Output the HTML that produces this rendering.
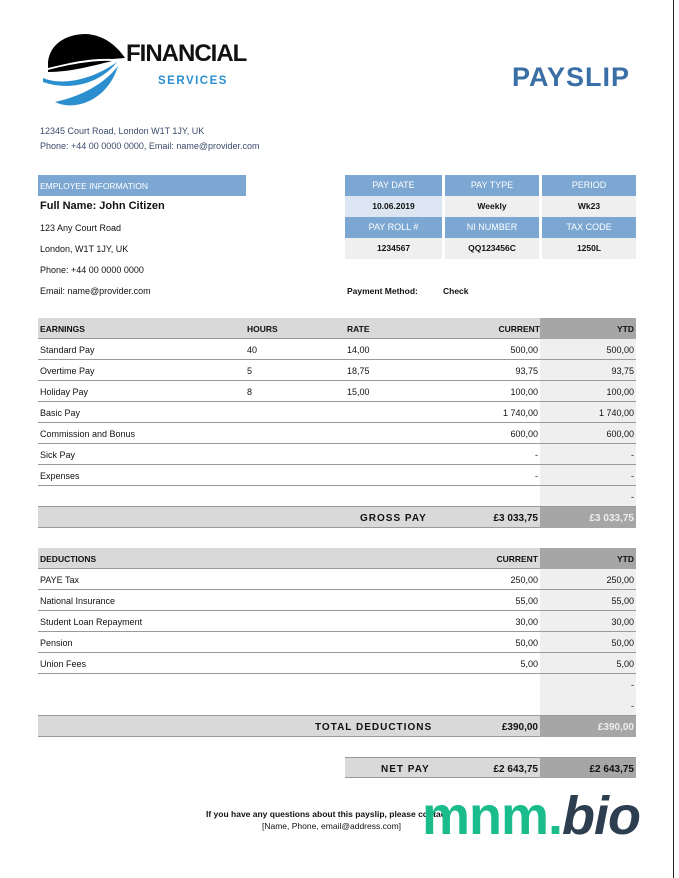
<!DOCTYPE html>
<html><head><meta charset="utf-8"><style>
*{margin:0;padding:0;box-sizing:border-box}
body{width:679px;height:878px;background:#fff;position:relative;font-family:"Liberation Sans",Arial,sans-serif;font-size:9px;color:#111;overflow:hidden}
.a{position:absolute;white-space:nowrap}
.row{position:absolute;left:38px;width:598px;height:21px;border-bottom:1px solid #9a9a9a}
.row span{position:absolute;top:6px}
.r{text-align:right}
.ytd{position:absolute;left:540px;width:96px;background:#efefef}
.hb{position:absolute;background:#7ba7d2;color:#fff;text-align:center;font-size:9px;line-height:21px;height:21px}
.vb{position:absolute;background:#efefef;text-align:center;font-weight:bold;font-size:8.5px;line-height:21px;height:21px}
</style></head><body>
<div class="a" style="left:673px;top:0;width:1px;height:878px;background:#222"></div>
<svg class="a" style="left:0;top:0" width="130" height="115" viewBox="0 0 130 115">
<path d="M48 62 C50 44 66 34 86 34 C104 35 117 46 125 58 L112 59 C92 58 72 62 48 68 Z" fill="#000"/>
<path d="M48 70 C70 64 95 60 112 61 C92 66 70 72 48 72 Z" fill="#000"/>
<path d="M43 78 C62 86 92 80 117 62 C102 82 72 92 43 82 Z" fill="#2b8fcf"/>
<path d="M55 102 C75 112 108 100 118 66 C104 84 82 96 55 102 Z" fill="#2b8fcf"/>
</svg>
<div class="a" style="left:126px;top:40px;font-size:24px;font-weight:bold;letter-spacing:-1px">FINANCIAL</div>
<div class="a" style="left:158px;top:75px;font-size:11.5px;font-weight:bold;color:#2b8fcf;letter-spacing:1.5px">SERVICES</div>
<div class="a" style="left:512px;top:62px;font-size:27px;font-weight:bold;color:#3a6fa6;letter-spacing:1px">PAYSLIP</div>
<div class="a" style="left:40px;top:126px;color:#3b4a6b">12345 Court Road, London W1T 1JY, UK</div>
<div class="a" style="left:40px;top:141px;color:#3b4a6b">Phone: +44 00 0000 0000, Email: name@provider.com</div>
<div class="a" style="left:38px;top:175px;width:208px;height:21px;background:#7ba7d2;color:#fff;padding:6px 2px;font-size:8.5px">EMPLOYEE INFORMATION</div>
<div class="a" style="left:40px;top:200px;font-size:11px;font-weight:bold">Full Name: John Citizen</div>
<div class="a" style="left:40px;top:223px">123 Any Court Road</div>
<div class="a" style="left:40px;top:244px">London, W1T 1JY, UK</div>
<div class="a" style="left:40px;top:265px">Phone: +44 00 0000 0000</div>
<div class="a" style="left:40px;top:286px">Email: name@provider.com</div>
<div class="hb" style="left:345px;top:175px;width:97px">PAY DATE</div>
<div class="hb" style="left:445px;top:175px;width:94px">PAY TYPE</div>
<div class="hb" style="left:542px;top:175px;width:94px">PERIOD</div>
<div class="vb" style="left:345px;top:196px;width:97px;background:#dce6f2">10.06.2019</div>
<div class="vb" style="left:445px;top:196px;width:94px">Weekly</div>
<div class="vb" style="left:542px;top:196px;width:94px">Wk23</div>
<div class="hb" style="left:345px;top:217px;width:97px">PAY ROLL #</div>
<div class="hb" style="left:445px;top:217px;width:94px">NI NUMBER</div>
<div class="hb" style="left:542px;top:217px;width:94px">TAX CODE</div>
<div class="vb" style="left:345px;top:238px;width:97px">1234567</div>
<div class="vb" style="left:445px;top:238px;width:94px">QQ123456C</div>
<div class="vb" style="left:542px;top:238px;width:94px">1250L</div>
<div class="a" style="left:347px;top:286px;font-weight:bold;font-size:8.5px">Payment Method:</div>
<div class="a" style="left:443px;top:286px;font-weight:bold;font-size:8.5px">Check</div>

<div class="ytd" style="top:318px;height:210px"></div>
<div class="row" style="top:318px;background:#d9d9d9;font-weight:bold;font-size:8.5px"><span style="left:2px">EARNINGS</span><span style="left:209px">HOURS</span><span style="left:309px">RATE</span><span class="r" style="right:96px;width:80px">CURRENT</span><span style="left:502px;width:96px;top:0;height:21px;background:#a6a6a6"></span><span class="r" style="right:2px">YTD</span></div>
<div class="row" style="top:339px"><span style="left:2px">Standard Pay</span><span style="left:209px">40</span><span style="left:309px">14,00</span><span style="right:98px">500,00</span><span style="right:2px">500,00</span></div>
<div class="row" style="top:360px"><span style="left:2px">Overtime Pay</span><span style="left:209px">5</span><span style="left:309px">18,75</span><span style="right:98px">93,75</span><span style="right:2px">93,75</span></div>
<div class="row" style="top:381px"><span style="left:2px">Holiday Pay</span><span style="left:209px">8</span><span style="left:309px">15,00</span><span style="right:98px">100,00</span><span style="right:2px">100,00</span></div>
<div class="row" style="top:402px"><span style="left:2px">Basic Pay</span><span style="right:98px">1 740,00</span><span style="right:2px">1 740,00</span></div>
<div class="row" style="top:423px"><span style="left:2px">Commission and Bonus</span><span style="right:98px">600,00</span><span style="right:2px">600,00</span></div>
<div class="row" style="top:444px"><span style="left:2px">Sick Pay</span><span style="right:98px">-</span><span style="right:2px">-</span></div>
<div class="row" style="top:465px"><span style="left:2px">Expenses</span><span style="right:98px">-</span><span style="right:2px">-</span></div>
<div class="row" style="top:486px"><span style="right:2px">-</span></div>
<div class="row" style="top:507px;background:#d9d9d9;font-weight:bold;font-size:10px"><span style="left:322px;letter-spacing:1px">GROSS PAY</span><span style="right:98px">£3 033,75</span><span style="left:502px;width:96px;top:0;height:21px;background:#a6a6a6"></span><span style="right:2px;color:#eee">£3 033,75</span></div>

<div class="ytd" style="top:548px;height:189px"></div>
<div class="row" style="top:548px;background:#d9d9d9;font-weight:bold;font-size:8.5px"><span style="left:2px">DEDUCTIONS</span><span style="right:98px">CURRENT</span><span style="left:502px;width:96px;top:0;height:21px;background:#a6a6a6"></span><span style="right:2px">YTD</span></div>
<div class="row" style="top:569px"><span style="left:2px">PAYE Tax</span><span style="right:98px">250,00</span><span style="right:2px">250,00</span></div>
<div class="row" style="top:590px"><span style="left:2px">National Insurance</span><span style="right:98px">55,00</span><span style="right:2px">55,00</span></div>
<div class="row" style="top:611px"><span style="left:2px">Student Loan Repayment</span><span style="right:98px">30,00</span><span style="right:2px">30,00</span></div>
<div class="row" style="top:632px"><span style="left:2px">Pension</span><span style="right:98px">50,00</span><span style="right:2px">50,00</span></div>
<div class="row" style="top:653px"><span style="left:2px">Union Fees</span><span style="right:98px">5,00</span><span style="right:2px">5,00</span></div>
<div class="row" style="top:674px;border:none"><span style="right:2px">-</span></div>
<div class="row" style="top:695px"><span style="right:2px">-</span></div>
<div class="row" style="top:716px;background:#d9d9d9;font-weight:bold;font-size:10px"><span style="left:277px;letter-spacing:1px">TOTAL DEDUCTIONS</span><span style="right:98px">£390,00</span><span style="left:502px;width:96px;top:0;height:21px;background:#a6a6a6"></span><span style="right:2px;color:#eee">£390,00</span></div>

<div class="row" style="top:757px;left:345px;width:291px;background:#d9d9d9;font-weight:bold;font-size:10px;border-top:1px solid #9a9a9a"><span style="left:36px;letter-spacing:1px">NET PAY</span><span style="right:98px">£2 643,75</span><span style="left:195px;width:96px;top:0;height:20px;background:#a6a6a6"></span><span style="right:2px">£2 643,75</span></div>

<div class="a" style="left:206px;top:809px;font-weight:bold;font-size:8.5px">If you have any questions about this payslip, please contact</div>
<div class="a" style="left:262px;top:821px;font-size:8.5px">[Name, Phone, email@address.com]</div>
<div class="a" style="left:422px;top:782px;font-size:54px;font-weight:bold;color:#1abc8c;line-height:68px;letter-spacing:-1px">mnm.<span style="color:#2c3e50;font-style:italic">bio</span></div>
</body></html>
